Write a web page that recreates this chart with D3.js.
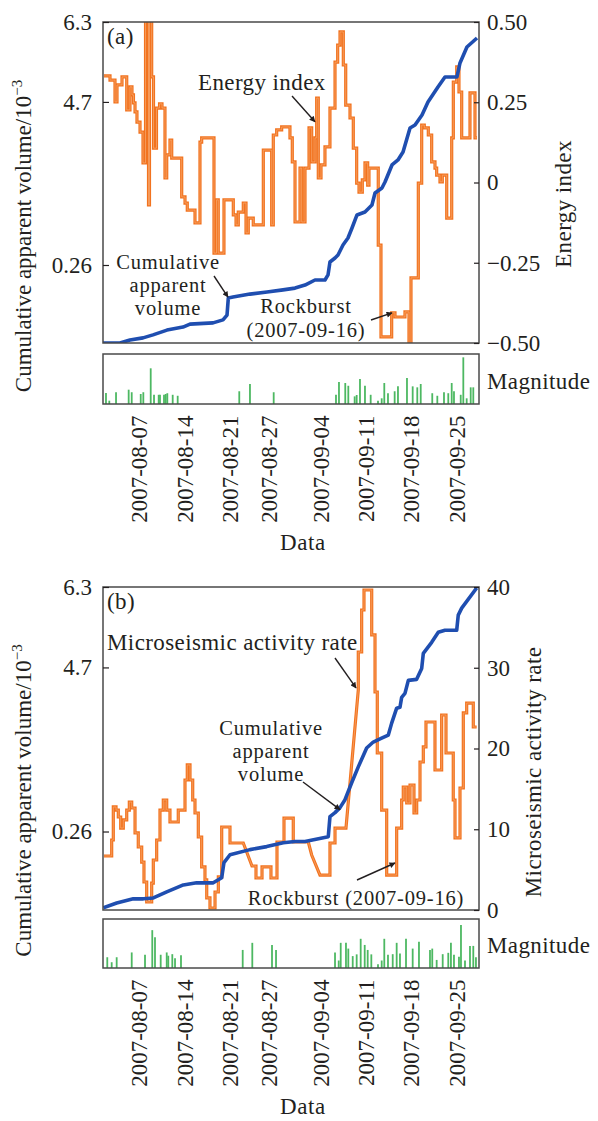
<!DOCTYPE html>
<html>
<head>
<meta charset="utf-8">
<script src="https://cdn.jsdelivr.net/npm/d3@7"></script>
<style>
  body { margin: 0; background: #fff; }
  svg text { font-family: "Liberation Serif", "Times New Roman", serif; fill: #231f20; }
</style>
</head>
<body>
<svg id="chart" width="598" height="1121"></svg>
<script>
// Time is stored as fractional days counted from 2007-08-01 00:00 UTC.

// Energy index (panel a), step series: start day of each step and its value
const energyDay = [0.65,1.58,2.35,2.66,3.43,4.16,4.66,4.97,5.20,5.44,5.74,6.21,6.67,7.06,7.52,7.67,8.01,8.29,8.75,9.22,
  9.60,10.06,10.33,10.83,11.10,12.64,13.15,13.50,14.69,15.46,15.72,17.62,18.01,18.28,19.16,20.60,21.02,21.37,22.14,22.56,
  22.91,23.68,25.23,26.52,26.77,27.29,28.06,29.34,29.70,30.12,30.89,31.15,31.66,32.28,32.69,33.20,33.46,33.71,34.13,34.74,
  35.51,36.29,36.70,37.06,37.57,37.94,38.60,39.11,39.63,39.99,40.50,40.91,41.33,41.53,42.96,43.38,45.03,45.54,47.08,47.70,
  48.01,49.14,49.66,50.06,50.68,51.20,51.71,51.97,52.48,52.84,53.52,54.29,54.54,55.06,55.41,55.83,57.11,57.88,58.19];
const energyValue = [0.332,0.319,0.251,0.304,0.329,0.226,0.298,0.273,0.248,0.220,0.188,0.157,0.061,0.55,-0.070,0.55,0.329,0.107,0.232,0.245,
  0.232,0.014,0.086,0.132,0.076,-0.045,-0.064,-0.086,-0.126,0.126,0.139,-0.220,-0.054,-0.220,-0.054,-0.101,-0.132,-0.092,-0.064,-0.157,
  -0.111,-0.132,0.101,-0.132,0.148,0.164,0.173,0.139,0.064,-0.123,0.045,-0.123,0.045,0.170,0.064,0.139,0.263,0.014,0.055,0.111,
  0.232,0.375,0.428,0.469,0.366,0.241,0.201,0.107,-0.002,-0.030,0.008,0.061,-0.008,0.045,-0.195,-0.481,-0.406,-0.419,-0.403,-0.51,
  -0.297,-0.002,0.179,0.170,0.148,0.064,0.045,0.023,0.002,0.023,-0.111,0.139,0.313,0.360,0.282,0.139,0.279,0.139,0.139];

// Microseismic activity rate (panel b), polyline vertices
const rateDay = [0.65,1.84,1.84,2.09,2.09,2.51,2.51,2.86,2.86,3.23,3.23,3.63,3.63,4.16,4.16,4.56,4.56,4.93,4.93,5.44,
  5.44,5.94,5.94,6.47,6.47,6.82,6.82,7.24,7.24,8.01,8.01,8.26,8.26,8.78,8.78,9.29,9.29,9.80,9.80,10.33,
  10.33,10.83,10.83,12.11,12.11,13.15,13.15,13.50,13.50,13.92,13.92,14.34,14.34,14.69,14.69,15.20,15.20,15.72,15.72,16.23,
  16.23,16.50,16.50,17.00,17.00,17.78,17.78,18.29,18.29,18.81,18.81,20.09,20.09,22.14,23.48,24.10,24.10,25.03,25.03,26.41,
  26.41,27.34,27.34,28.42,28.42,29.85,29.85,32.17,32.69,33.97,35.51,35.51,36.29,36.29,37.98,39.88,39.88,40.40,40.40,40.76,
  40.76,41.95,41.95,42.46,42.46,42.81,42.81,43.49,43.49,44.26,44.26,45.80,45.80,46.57,46.57,46.82,46.82,47.35,47.35,47.86,
  47.86,48.47,48.47,48.89,48.89,49.40,49.40,49.91,49.91,50.32,50.32,51.71,51.71,52.74,52.74,53.41,53.41,54.53,54.53,54.80,
  54.80,55.57,55.57,56.08,56.08,56.60,56.60,57.62,57.62,58.14];
const rateValue = [6.69,6.69,8.67,8.67,12.76,12.76,12.38,12.38,11.52,11.52,10.15,10.15,11.15,11.15,12.38,12.38,13.37,13.37,12.63,12.63,
  9.54,9.54,7.80,7.80,5.94,5.94,3.47,3.47,0.99,0.99,3.34,3.34,6.19,6.19,8.67,8.67,12.38,12.38,13.62,13.62,
  12.38,12.38,10.90,10.90,12.38,12.38,16.10,16.10,17.96,17.96,16.10,16.10,13.62,13.62,12.01,12.01,9.04,9.04,5.33,5.33,
  3.72,3.72,1.49,1.49,0.25,0.25,2.23,2.23,4.09,4.09,10.28,10.28,8.30,8.30,5.45,5.45,3.96,3.96,5.33,5.33,
  3.96,3.96,8.42,8.42,11.39,11.39,8.42,8.42,6.81,4.33,4.33,8.30,8.30,10.15,10.15,27.24,31.95,31.95,37.15,37.15,
  39.63,39.63,34.06,34.06,27.00,27.00,19.44,19.44,12.38,12.38,4.33,4.33,10.15,10.15,13.62,13.62,15.23,15.23,13.25,13.25,
  15.48,15.48,12.01,12.01,13.62,13.62,18.33,18.33,20.19,20.19,23.28,23.28,17.34,17.34,24.15,24.15,19.44,19.44,13.62,13.62,
  8.92,8.92,15.11,15.11,24.40,24.40,25.63,25.63,22.66,22.66];

// Cumulative apparent volume (10^-3)
const cumDayA = [0.5,3.12,4.66,6.67,8.21,10.37,12.84,13.92,17.47,19.01,19.63,19.83,20.55,23.17,25.80,28.27,30.12,31.66,33.20,34.74,
  35.21,35.51,36.29,36.75,37.52,38.29,38.91,39.68,40.91,41.99,42.46,43.53,44.0,45.08,46.0,46.78,47.86,48.63,49.71,50.63,
  52.17,53.25,55.10,55.57,56.64,58.19];
const cumVolA = [0,0,0.010,0.017,0.027,0.043,0.053,0.063,0.067,0.077,0.093,0.150,0.153,0.163,0.170,0.177,0.183,0.193,0.210,0.210,
  0.227,0.342,0.451,0.532,0.805,0.995,1.268,1.622,1.704,1.894,2.221,2.357,2.521,2.984,3.120,3.338,3.992,4.072,4.346,4.70,
  5.00,5.20,5.20,5.48,5.80,5.98];
const cumDayB = [0.55,2.61,5.17,6.72,8.26,10.33,12.89,14.95,17.51,18.81,19.16,20.09,23.17,25.75,28.31,30.12,31.66,35.25,35.51,36.29,
  37.06,37.83,38.86,39.88,41.17,42.19,43.48,44.51,45.03,45.80,46.31,46.57,47.08,47.60,48.88,49.66,49.91,51.20,52.22,53.25,
  55.06,55.30,55.83,58.14];
const cumVolB = [0.007,0.023,0.037,0.037,0.040,0.060,0.083,0.090,0.090,0.107,0.157,0.183,0.200,0.210,0.223,0.227,0.227,0.243,0.664,0.771,
  0.906,1.121,1.579,2.009,2.520,2.682,2.789,2.870,3.193,3.597,3.624,3.890,3.998,4.350,4.377,4.673,4.98,5.20,5.40,5.44,
  5.44,5.74,5.88,6.28];

// Event magnitudes shown as bars
const magDayA = [0.96,1.47,2.51,4.46,4.93,6.32,6.72,7.86,8.37,9.09,9.29,9.91,10.17,10.42,11.25,12.02,21.52,23.17,26.83,36.44,
  36.90,37.87,38.34,39.32,39.63,40.14,40.91,41.79,42.92,43.49,43.89,44.46,45.49,46.00,47.39,48.27,48.98,49.51,51.29,52.07,
  53.10,53.76,54.29,54.64,55.68,56.08,56.60,57.22,57.62];
const magA = [0.56,0.17,0.60,0.73,0.60,0.51,0.60,1.82,0.47,0.47,0.47,0.47,0.51,0.55,0.47,0.42,0.65,1.02,0.60,0.47,
  1.12,1.07,0.93,0.39,0.46,1.28,0.93,0.47,0.17,0.29,1.07,0.55,0.65,0.90,1.33,0.90,0.85,1.02,0.55,0.42,
  0.60,0.55,1.07,0.65,0.47,2.38,0.29,0.85,0.85];
const magDayB = [1.16,1.84,2.61,4.93,6.98,8.10,8.52,9.40,10.33,10.57,11.19,11.61,12.53,22.05,23.53,26.57,27.19,36.29,36.86,37.17,
  37.98,38.34,39.02,39.63,40.25,40.87,41.33,41.89,42.92,43.49,43.89,44.46,45.19,45.80,46.31,47.24,48.27,49.24,50.94,51.29,
  51.97,52.90,53.76,54.17,54.64,55.41,55.72,56.34,57.11,57.62,58.03];
const magB = [0.56,0.30,0.56,0.81,0.69,1.97,1.60,0.69,0.81,0.64,0.72,0.51,0.67,0.94,1.31,1.20,0.94,0.81,0.39,1.31,
  1.31,1.01,0.62,0.71,1.52,1.20,0.94,0.71,0.19,0.39,1.52,0.69,0.72,1.31,0.76,1.52,1.01,1.36,0.94,1.01,
  0.42,0.72,0.79,1.31,0.69,0.59,2.24,0.39,1.15,1.15,0.56];

// Axis ticks
const dateTicks = ["2007-08-07","2007-08-14","2007-08-21","2007-08-27","2007-09-04","2007-09-11","2007-09-18","2007-09-25"];
const volTicks = [0.26, 4.7, 6.3];
const energyTicks = [-0.5, -0.25, 0, 0.25, 0.5];
const rateTicks = [0, 10, 20, 30, 40];

// ---------------------------------------------------------------------------
const ORANGE = "#f2731f", ORANGE_CORE = "#f8b07a", BLUE = "#1f4eb0", GREEN = "#4db862", INK = "#231f20", FRAME = "#4a4a4a";
const FONT = 23;
const svg = d3.select("#chart");
const X0 = 103, X1 = 479;
const DAY = 864e5, ORIGIN = Date.UTC(2007, 7, 1);
const toDate = d => new Date(ORIGIN + d * DAY);

const x = d3.scaleUtc().domain([toDate(0.5), toDate(58.5)]).range([X0, X1]);
const magY = p => d3.scaleLinear().domain([0, 2.55]).range([p.magBottom, p.magTop]);
// stretched cumulative-volume axis (breaks at the labelled values)
const volScale = p => d3.scaleLinear()
  .domain([0, 0.26, 4.7, 6.3])
  .range([0, 0.243, 0.751, 1].map(f => p.bottom - f * (p.bottom - p.top)));

const panelA = { id: "a", top: 22, bottom: 343, magTop: 354, magBottom: 404 };
const panelB = { id: "b", top: 587, bottom: 910, magTop: 919, magBottom: 968 };

const defs = svg.append("defs");
function clipFor(p) {
  defs.append("clipPath").attr("id", "clip-" + p.id)
    .append("rect").attr("x", X0).attr("y", p.top).attr("width", X1 - X0).attr("height", p.bottom - p.top);
  return "url(#clip-" + p.id + ")";
}
defs.append("marker").attr("id", "arrow").attr("viewBox", "0 0 10 10")
  .attr("refX", 9).attr("refY", 5).attr("markerWidth", 8).attr("markerHeight", 6)
  .attr("markerUnits", "userSpaceOnUse").attr("orient", "auto")
  .append("path").attr("d", "M0,0 L10,5 L0,10 Z").attr("fill", INK);

function styleAxis(g) {
  g.select(".domain").remove();
  g.selectAll(".tick line").attr("stroke", INK).attr("stroke-width", 1.2);
  g.selectAll("text").attr("font-family", '"Liberation Serif", serif').attr("font-size", FONT).attr("fill", INK);
}

function drawAxes(yVol, yRight, rightFormat, rightTicks) {
  svg.append("g").attr("transform", `translate(${X0},0)`)
    .call(d3.axisLeft(yVol).tickValues(volTicks).tickFormat(d => String(d))
      .tickSizeInner(-6).tickSizeOuter(0).tickPadding(11))
    .call(styleAxis);
  svg.append("g").attr("transform", `translate(${X1},0)`)
    .call(d3.axisRight(yRight).tickValues(rightTicks).tickFormat(rightFormat)
      .tickSizeInner(-5).tickSizeOuter(0).tickPadding(8))
    .call(styleAxis);
}

function drawMagnitude(p, days, mags) {
  const ym = magY(p);
  svg.append("g").selectAll("line").data(d3.zip(days, mags)).join("line")
    .attr("x1", d => x(toDate(d[0]))).attr("x2", d => x(toDate(d[0])))
    .attr("y1", ym(0)).attr("y2", d => ym(d[1]))
    .attr("stroke", GREEN).attr("stroke-width", 1.8);
  svg.append("rect").attr("x", X0).attr("y", p.magTop).attr("width", X1 - X0).attr("height", p.magBottom - p.magTop)
    .attr("fill", "none").attr("stroke", FRAME).attr("stroke-width", 1.5);
  svg.append("text").attr("x", X1 + 8).attr("y", (p.magTop + p.magBottom) / 2 + 9.5)
    .attr("font-size", FONT).attr("letter-spacing", 0.4).text("Magnitude");
  const dateAxis = svg.append("g").attr("transform", `translate(0,${p.magBottom})`)
    .call(d3.axisBottom(x).tickValues(dateTicks.map(d3.utcParse("%Y-%m-%d")))
      .tickFormat(d3.utcFormat("%Y-%m-%d")).tickSize(0))
    .call(styleAxis);
  dateAxis.selectAll("text")
    .attr("transform", "rotate(-90)").attr("text-anchor", "end")
    .attr("x", -11.5).attr("y", 0).attr("dy", "0.35em");
  svg.append("text").attr("x", (X0 + X1) / 2 + 12).attr("y", p.magBottom + 146)
    .attr("text-anchor", "middle").attr("font-size", FONT).attr("letter-spacing", 0.6).text("Data");
}

function frame(p) {
  svg.append("rect").attr("x", X0).attr("y", p.top).attr("width", X1 - X0).attr("height", p.bottom - p.top)
    .attr("fill", "none").attr("stroke", FRAME).attr("stroke-width", 1.5);
}

function leftTitle(p) {
  const t = svg.append("text")
    .attr("transform", `translate(31,${(p.top + p.magBottom) / 2 + 23}) rotate(-90)`)
    .attr("text-anchor", "middle").attr("font-size", FONT);
  t.append("tspan").text("Cumulative apparent volume/10");
  t.append("tspan").attr("dy", -9).attr("font-size", 15).text("\u22123");
}

function textLines(lines, cx, baselines) {
  lines.forEach((s, i) => svg.append("text").attr("x", cx).attr("y", baselines[i])
    .attr("text-anchor", "middle").attr("font-size", 20.5).attr("letter-spacing", 0.8).text(s));
}
function label(s, x0, y0) {
  svg.append("text").attr("x", x0).attr("y", y0).attr("font-size", FONT).attr("letter-spacing", 0.4).text(s);
}
function arrow(x1, y1, x2, y2) {
  svg.append("line").attr("x1", x1).attr("y1", y1).attr("x2", x2).attr("y2", y2)
    .attr("stroke", INK).attr("stroke-width", 1.4).attr("marker-end", "url(#arrow)");
}
// orange trace drawn as a stroked tube with a lighter core
function orangeTrace(g, data, lineGen) {
  g.append("path").datum(data).attr("fill", "none").attr("stroke", ORANGE)
    .attr("stroke-width", 3.2).attr("stroke-linejoin", "miter").attr("d", lineGen);
  g.append("path").datum(data).attr("fill", "none").attr("stroke", ORANGE_CORE)
    .attr("stroke-width", 0.8).attr("stroke-linejoin", "miter").attr("opacity", 0.8).attr("d", lineGen);
}

// ---------------------------- panel (a) ----------------------------
{
  const p = panelA;
  const yVol = volScale(p);
  const yE = d3.scaleLinear().domain([-0.5, 0.5]).range([p.bottom, p.top]);
  const g = svg.append("g").attr("clip-path", clipFor(p));

  orangeTrace(g, d3.zip(energyDay, energyValue),
    d3.line().x(d => x(toDate(d[0]))).y(d => yE(d[1])).curve(d3.curveStepAfter));
  g.append("path").datum(d3.zip(cumDayA, cumVolA))
    .attr("fill", "none").attr("stroke", BLUE).attr("stroke-width", 3.6).attr("stroke-linejoin", "round")
    .attr("d", d3.line().x(d => x(toDate(d[0]))).y(d => yVol(d[1])));

  frame(p);
  drawAxes(yVol, yE, d => d === 0 ? "0" : d3.format(".2f")(d), energyTicks);
  drawMagnitude(p, magDayA, magA);
  leftTitle(p);
  svg.append("text").attr("transform", "translate(571,204) rotate(-90)").attr("text-anchor", "middle")
    .attr("font-size", FONT).attr("letter-spacing", 0.4).text("Energy index");

  label("(a)", 107, 44);
  label("Energy index", 198, 90);
  arrow(292, 96, x(toDate(33.2)), yE(0.189));
  textLines(["Cumulative", "apparent", "volume"], 168, [269, 292, 315]);
  arrow(214, 276, x(toDate(19.78)), yVol(0.153));
  textLines(["Rockburst", "(2007-09-16)"], 306, [313, 337]);
  arrow(371, 320, x(toDate(45.08)), yE(-0.406));
}

// ---------------------------- panel (b) ----------------------------
{
  const p = panelB;
  const yVol = volScale(p);
  const yR = d3.scaleLinear().domain([0, 40]).range([p.bottom, p.top]);
  const g = svg.append("g").attr("clip-path", clipFor(p));

  orangeTrace(g, d3.zip(rateDay, rateValue),
    d3.line().x(d => x(toDate(d[0]))).y(d => yR(d[1])));
  g.append("path").datum(d3.zip(cumDayB, cumVolB))
    .attr("fill", "none").attr("stroke", BLUE).attr("stroke-width", 3.6).attr("stroke-linejoin", "round")
    .attr("d", d3.line().x(d => x(toDate(d[0]))).y(d => yVol(d[1])));

  frame(p);
  drawAxes(yVol, yR, d3.format("d"), rateTicks);
  drawMagnitude(p, magDayB, magB);
  leftTitle(p);
  svg.append("text").attr("transform", "translate(541,772) rotate(-90)").attr("text-anchor", "middle")
    .attr("font-size", FONT).attr("letter-spacing", 0.4).text("Microseismic activity rate");

  label("(b)", 107, 609);
  label("Microseismic activity rate", 107, 650);
  arrow(335, 658, x(toDate(39.53)), yR(27.5));
  textLines(["Cumulative", "apparent", "volume"], 271, [735, 758, 781]);
  arrow(303, 782, x(toDate(37.06)), yVol(0.852));
  textLines(["Rockburst (2007-09-16)"], 356, [905]);
  arrow(357, 880, x(toDate(45.54)), yR(5.82));
}
</script>
</body>
</html>
